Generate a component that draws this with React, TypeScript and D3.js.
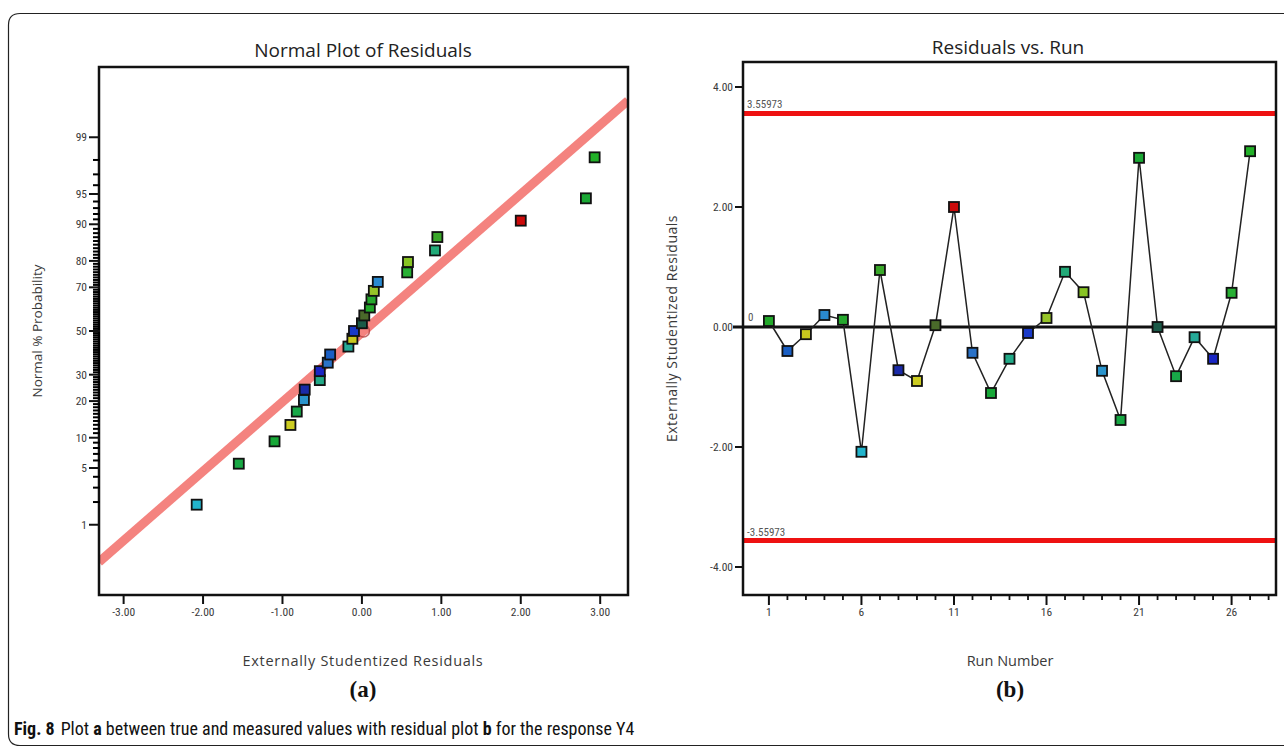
import React from 'react';
import * as d3 from 'd3';

// ---------- data ----------
const runs = [1, 2, 3, 4, 5, 6, 7, 8, 9, 10, 11, 12, 13, 14, 15, 16, 17, 18, 19, 20, 21, 22, 23, 24, 25, 26, 27];
const residuals = [0.1, -0.4, -0.12, 0.2, 0.12, -2.08, 0.95, -0.72, -0.9, 0.03, 2.0, -0.43, -1.1, -0.53, -0.1, 0.15, 0.92, 0.58, -0.73, -1.55, 2.82, 0.0, -0.82, -0.17, -0.53, 0.57, 2.93];
const runColors = [
  '#22a82a', '#1a5fc4', '#c8c81e', '#2a8ad0', '#26a82e', '#22b4cc', '#3aa82a', '#1a2aa8', '#cccc22',
  '#4a6a2a', '#cc0a0a', '#2a72c8', '#18a838', '#22aa88', '#1a3ac8', '#96c428', '#22aa78', '#88c424',
  '#2a94cc', '#18a844', '#1aa834', '#1a5a48', '#18a848', '#26aa98', '#1a26c4', '#28b034', '#22b028'
];
const probTicks = [1, 5, 10, 20, 30, 50, 70, 80, 90, 95, 99];
const probMinorTicks = [2, 3, 4, 6, 7, 8, 9, 11, 12, 13, 14, 15, 16, 17, 18, 19, 21, 22, 23, 24, 25, 26, 27, 28, 29,
  31, 32, 33, 34, 35, 36, 37, 38, 39, 40, 41, 42, 43, 44, 45, 46, 47, 48, 49, 51, 52, 53, 54, 55, 56, 57, 58, 59, 60,
  61, 62, 63, 64, 65, 66, 67, 68, 69, 71, 72, 73, 74, 75, 76, 77, 78, 79, 81, 82, 83, 84, 85, 86, 87, 88, 89,
  91, 92, 93, 94, 96, 97, 98];
const residualTicks = [-3, -2, -1, 0, 1, 2, 3];
const runMajorTicks = [1, 6, 11, 16, 21, 26];
const runMinorTicks = [2, 3, 4, 5, 7, 8, 9, 10, 12, 13, 14, 15, 17, 18, 19, 20, 22, 23, 24, 25, 27, 28];
const residualYTicks = [4, 2, 0, -2, -4];
const limitValues = [3.55973, -3.55973];
const limitLabels = ['3.55973', '-3.55973'];
const refLine = { slope: 0.832, intercept: -0.02 };

// inverse normal CDF (Acklam)
function probit(p: number): number {
  const a = [-3.969683028665376e1, 2.209460984245205e2, -2.759285104469687e2, 1.38357751867269e2, -3.066479806614716e1, 2.506628277459239];
  const b = [-5.447609879822406e1, 1.615858368580409e2, -1.556989798598866e2, 6.680131188771972e1, -1.328068155288572e1];
  const c = [-7.784894002430293e-3, -3.223964580411365e-1, -2.400758277161838, -2.549732539343734, 4.374664141464968, 2.938163982698783];
  const d = [7.784695709041462e-3, 3.224671290700398e-1, 2.445134137142996, 3.754408661907416];
  const pl = 0.02425;
  let q = 0;
  let r = 0;
  if (p < pl) {
    q = Math.sqrt(-2 * Math.log(p));
    return (((((c[0] * q + c[1]) * q + c[2]) * q + c[3]) * q + c[4]) * q + c[5]) / ((((d[0] * q + d[1]) * q + d[2]) * q + d[3]) * q + 1);
  } else if (p <= 1 - pl) {
    q = p - 0.5; r = q * q;
    return (((((a[0] * r + a[1]) * r + a[2]) * r + a[3]) * r + a[4]) * r + a[5]) * q / (((((b[0] * r + b[1]) * r + b[2]) * r + b[3]) * r + b[4]) * r + 1);
  } else {
    q = Math.sqrt(-2 * Math.log(1 - p));
    return -(((((c[0] * q + c[1]) * q + c[2]) * q + c[3]) * q + c[4]) * q + c[5]) / ((((d[0] * q + d[1]) * q + d[2]) * q + d[3]) * q + 1);
  }
}

const FONT = '"Liberation Sans Narrow", "Arial Narrow", "Roboto Condensed", sans-serif';
const WIDE = '"Open Sans", "Noto Sans", sans-serif';
const SERIF = '"Liberation Serif", "Times New Roman", serif';
const TXT = '#3a3a3a';

export default function App() {
  // ---- left: normal plot ----
  const L = { x0: 99, x1: 628, y0: 67, y1: 595 };
  const xN = d3.scaleLinear().domain([-3.31, 3.35]).range([L.x0, L.x1]);
  const yN = d3.scaleLinear().domain([-3.17, 3.17]).range([L.y1, L.y0]);
  const n = residuals.length;
  const order = d3.range(n).sort((a, b) => residuals[a] - residuals[b]);
  const normalPts = order.map((idx, rank) => ({
    x: xN(residuals[idx]),
    y: yN(probit((rank + 0.5) / n)),
    color: runColors[idx],
  }));
  const lineX = xN.domain();
  const lineZ = lineX.map((v) => refLine.slope * v + refLine.intercept);

  const minorYs = probMinorTicks.map((p) => yN(probit(p / 100)));

  // ---- right: residuals vs run ----
  const R = { x0: 743, x1: 1276, y0: 62, y1: 595 };
  const xR = d3.scaleLinear().domain([-0.4, 28.4]).range([R.x0, R.x1]);
  const yR = d3.scaleLinear().domain([-4.467, 4.417]).range([R.y1, R.y0]);
  const runLine = d3.line<number>().x((_, i) => xR(runs[i])).y((v) => yR(v))(residuals) || '';

  const sq = 10;

  return (
    <svg width={1284} height={747} style={{ position: 'absolute', left: 0, top: 0, background: '#fff' }}>
      <rect x={0} y={0} width={1284} height={747} fill="#fff" />
      {/* outer figure frame */}
      <path d="M 1300 13.5 L 20 13.5 Q 8.5 13.5 8.5 25 L 8.5 734 Q 8.5 745.5 20 745.5 L 1300 745.5" fill="none" stroke="#222" strokeWidth={1.2} />

      {/* ===== LEFT PLOT ===== */}
      <text x={363} y={57} textAnchor="middle" fontFamily={WIDE} fontSize={19} fill="#222">Normal Plot of Residuals</text>
      <defs>
        <clipPath id="clipL"><rect x={L.x0} y={L.y0} width={L.x1 - L.x0} height={L.y1 - L.y0} /></clipPath>
        <clipPath id="clipR"><rect x={R.x0} y={R.y0} width={R.x1 - R.x0} height={R.y1 - R.y0} /></clipPath>
      </defs>
      {/* reference line */}
      <line clipPath="url(#clipL)" x1={xN(lineX[0])} y1={yN(lineZ[0])} x2={xN(lineX[1])} y2={yN(lineZ[1])} stroke="#f4837f" strokeWidth={9} />
      {probTicks.map((p) => (
        <g key={'pt' + p}>
          <line x1={L.x0 - 10} x2={L.x0} y1={yN(probit(p / 100))} y2={yN(probit(p / 100))} stroke="#111" strokeWidth={2} />
          <text x={L.x0 - 12} y={yN(probit(p / 100)) + 4} textAnchor="end" fontFamily={FONT} fontSize={11.5} fill={TXT}>{p}</text>
        </g>
      ))}
      {residualTicks.map((t) => (
        <g key={'xt' + t}>
          <line x1={xN(t)} x2={xN(t)} y1={L.y1} y2={L.y1 + 9} stroke="#111" strokeWidth={2} />
          <text x={xN(t)} y={L.y1 + 17} dy="0.35em" textAnchor="middle" fontFamily={FONT} fontSize={11.5} fill={TXT}>{t.toFixed(2)}</text>
        </g>
      ))}
      <rect x={L.x0} y={L.y0} width={L.x1 - L.x0} height={L.y1 - L.y0} fill="none" stroke="#111" strokeWidth={2.5} />
      {/* minor y ticks (drawn after frame) */}
      <g>
        {minorYs.map((y, i) => (
          <line key={'pm' + i} x1={L.x0 - 6} x2={L.x0 + 1} y1={y} y2={y} stroke="#000" strokeWidth={2} />
        ))}
      </g>
      {/* points */}
      <circle cx={xN(0.02)} cy={yN(0)} r={6} fill="none" stroke="#b04040" strokeWidth={1.5} opacity={0.8} />
      {normalPts.map((p, i) => (
        <rect key={'np' + i} x={p.x - sq / 2} y={p.y - sq / 2} width={sq} height={sq} fill={p.color} stroke="#111" strokeWidth={1.8} />
      ))}
      <text transform={`translate(42,${(L.y0 + L.y1) / 2}) rotate(-90)`} textAnchor="middle" fontFamily={WIDE} fontSize={13.5} fill={TXT}>Normal % Probability</text>
      <text x={363} y={666} textAnchor="middle" fontFamily={WIDE} fontSize={14.5} letterSpacing={0.7} fill={TXT}>Externally Studentized Residuals</text>
      <text x={363} y={697} textAnchor="middle" fontFamily={SERIF} fontWeight="bold" fontSize={23} fill="#111">(a)</text>

      {/* ===== RIGHT PLOT ===== */}
      <text x={1008} y={54} textAnchor="middle" fontFamily={WIDE} fontSize={19} fill="#222">Residuals vs. Run</text>
      {/* limit lines */}
      {limitValues.map((v, i) => (
        <g key={'lim' + i}>
          <line clipPath="url(#clipR)" x1={R.x0} x2={R.x1} y1={yR(v)} y2={yR(v)} stroke="#ee1111" strokeWidth={5} />
          <text x={R.x0 + 4} y={yR(v) - 5} fontFamily={FONT} fontSize={11} fill="#555">{limitLabels[i]}</text>
        </g>
      ))}
      {/* zero line */}
      <line x1={R.x0 - 10} x2={R.x1} y1={yR(0)} y2={yR(0)} stroke="#111" strokeWidth={3} />
      <text x={R.x0 + 5} y={yR(0) - 6} fontFamily={FONT} fontSize={11} fill="#555">0</text>
      {/* y ticks */}
      {residualYTicks.map((t) => (
        <g key={'ry' + t}>
          <line x1={R.x0 - 8} x2={R.x0} y1={yR(t)} y2={yR(t)} stroke="#111" strokeWidth={2} />
          <text x={R.x0 - 10} y={yR(t) + 4} textAnchor="end" fontFamily={FONT} fontSize={11.5} fill={TXT}>{t.toFixed(2)}</text>
        </g>
      ))}
      {/* x ticks */}
      {runMinorTicks.map((t) => (
        <line key={'rmx' + t} x1={xR(t)} x2={xR(t)} y1={R.y1} y2={R.y1 + 5} stroke="#111" strokeWidth={1.8} />
      ))}
      {runMajorTicks.map((t) => (
        <g key={'rx' + t}>
          <line x1={xR(t)} x2={xR(t)} y1={R.y1} y2={R.y1 + 10} stroke="#111" strokeWidth={2} />
          <text x={xR(t)} y={R.y1 + 17} dy="0.35em" textAnchor="middle" fontFamily={FONT} fontSize={11.5} fill={TXT}>{t}</text>
        </g>
      ))}
      <rect x={R.x0} y={R.y0} width={R.x1 - R.x0} height={R.y1 - R.y0} fill="none" stroke="#111" strokeWidth={2.5} />
      <path d={runLine} fill="none" stroke="#222" strokeWidth={1.5} />
      {residuals.map((v, i) => (
        <rect key={'rp' + i} x={xR(runs[i]) - sq / 2} y={yR(v) - sq / 2} width={sq} height={sq} fill={runColors[i]} stroke="#111" strokeWidth={1.8} />
      ))}
      <text transform={`translate(677,${(R.y0 + R.y1) / 2}) rotate(-90)`} textAnchor="middle" fontFamily={WIDE} fontSize={14} letterSpacing={0.5} fill={TXT}>Externally Studentized Residuals</text>
      <text x={1010} y={666} textAnchor="middle" fontFamily={WIDE} fontSize={14.5} fill={TXT}>Run Number</text>
      <text x={1010} y={697} textAnchor="middle" fontFamily={SERIF} fontWeight="bold" fontSize={23} fill="#111">(b)</text>

      {/* caption */}
      <text x={14} y={735} fontFamily={FONT} fontSize={18} fill="#111">
        <tspan fontWeight="bold">Fig. 8</tspan>
        <tspan dx={6}>Plot </tspan>
        <tspan fontWeight="bold">a</tspan>
        <tspan> between true and measured values with residual plot </tspan>
        <tspan fontWeight="bold">b</tspan>
        <tspan> for the response Y4</tspan>
      </text>
    </svg>
  );
}
